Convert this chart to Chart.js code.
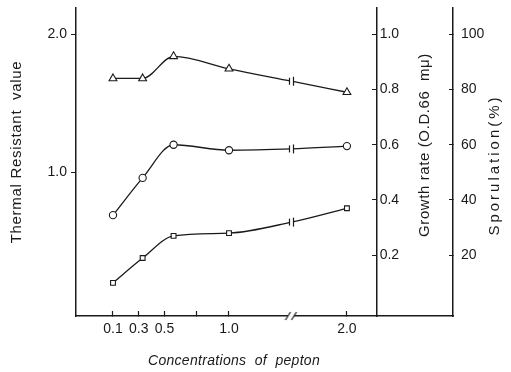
<!DOCTYPE html>
<html><head><meta charset="utf-8">
<script src="https://cdn.jsdelivr.net/npm/chart.js@4/dist/chart.umd.min.js"></script>
<style>html,body{margin:0;padding:0;background:#fff;}#wrap{width:511px;height:372px;}</style>
</head><body><div id="wrap"><canvas id="c" width="511" height="372"></canvas></div>
<script>
// ---- data ----
const concentrations = [0.1, 0.33, 0.57, 1.0, 2.0];        // pepton concentration of each marker (as drawn)
const thermalResistant = [0.69, 0.96, 1.20, 1.16, 1.19];    // circles, left axis
const growthRate = [0.10, 0.19, 0.27, 0.28, 0.37];          // squares, Growth rate axis
const sporulation = [84, 84, 92, 87.5, 79];                 // triangles, Sporulation axis
// where each line crosses the axis break
const breakConcentration = 1.53;
const thermalAtBreak = 1.17;
const growthAtBreak = 0.32;
const sporulationAtBreak = 83;
// ticks
const xTickValues = [0.1, 0.3, 0.5, 0.75, 1.0, 2.0];
const xTickLabels = ['0.1', '0.3', '0.5', '', '1.0', '2.0'];
const thermalTicks = [1.0, 2.0];
const growthTicks = [0.2, 0.4, 0.6, 0.8, 1.0];
const sporulationTicks = [20, 40, 60, 80, 100];

// broken x axis: beyond 1.0 the scale is compressed
const COMPRESS = 0.915;
function axisPos(c) { return c <= 1 ? c : 1 + (c - 1) * COMPRESS; }
const GROWTH_AXIS_AT = 2.146;

const FONT = '"Liberation Sans Narrow", "Liberation Sans", Arial, sans-serif';
const INK = '#1a1a1a';

function series(values, atBreak) {
  const pts = concentrations.map((c, i) => ({ x: axisPos(c), y: values[i] }));
  pts.splice(4, 0, { x: axisPos(breakConcentration), y: atBreak });
  return pts;
}
function barMark() {
  const c = document.createElement('canvas'); c.width = 9; c.height = 11;
  const g = c.getContext('2d');
  g.fillStyle = '#fff'; g.fillRect(2, 3, 5, 5);
  g.strokeStyle = INK; g.lineWidth = 1.2; g.beginPath();
  g.moveTo(2.5, 2); g.lineTo(2.5, 9); g.moveTo(6.5, 1); g.lineTo(6.5, 10); g.stroke();
  return c;
}
function slashMark() {
  const c = document.createElement('canvas'); c.width = 14; c.height = 12;
  const g = c.getContext('2d');
  g.fillStyle = '#fff'; g.fillRect(3, 4, 7, 4);
  g.strokeStyle = INK; g.lineWidth = 1.2; g.beginPath();
  g.moveTo(1, 10); g.lineTo(6, 2); g.moveTo(7, 10); g.lineTo(12, 2); g.stroke();
  return c;
}
const BAR = barMark(), SLASH = slashMark();
function styles(s) { return [s, s, s, s, BAR, s]; }

const Y_MIN = -0.04, Y_MAX = 2.19;

const titles = {
  id: 'titles',
  afterDraw(chart) {
    const g = chart.ctx; g.save();
    g.fillStyle = INK; g.textAlign = 'center'; g.textBaseline = 'middle';
    g.font = 'italic 14px ' + FONT;
    g.letterSpacing = '0.3px';
    g.fillText('Concentrations  of  pepton', 234, 361);
    const rot = (t, x, y, size, sp) => { g.save(); g.translate(x, y); g.rotate(-Math.PI / 2); g.font = size + 'px ' + FONT; g.letterSpacing = sp + 'px'; g.fillText(t, 0, 0); g.restore(); };
    rot('Thermal Resistant  value', 17, 152, 15, 0.7);
    rot('Growth rate (O.D.66  m\u03bc)', 425, 145, 15, 0.6);
    rot('Sporulation(%)', 495, 165, 15, 3);
    g.restore();
  }
};
// growth-rate axis stands inside the plot: put its labels on the right of its line
const growthLabelsRight = {
  id: 'growthLabelsRight',
  beforeDraw(chart) {
    const s = chart.scales.yGrowth;
    const lineX = chart.scales.x.getPixelForValue(GROWTH_AXIS_AT);
    s.getLabelItems(chart.chartArea).forEach(it => { it.options.textAlign = 'left'; it.options.translation[0] = lineX + 3; });
  }
};
function noPad(s) { s.paddingTop = 0; s.paddingBottom = 0; s.paddingLeft = 0; s.paddingRight = 0; }

const common = { borderColor: INK, backgroundColor: '#fff', pointBackgroundColor: '#fff', pointBorderColor: INK,
  borderWidth: 1.3, pointBorderWidth: 1.1, tension: 0.4, cubicInterpolationMode: 'monotone', showLine: true };

new Chart(document.getElementById('c'), {
  type: 'scatter',
  data: { datasets: [
    Object.assign({}, common, { label: 'Sporulation', yAxisID: 'ySpor', data: series(sporulation, sporulationAtBreak), pointStyle: styles('triangle'), pointRadius: 4.5 }),
    Object.assign({}, common, { label: 'Thermal resistant value', yAxisID: 'y', data: series(thermalResistant, thermalAtBreak), pointStyle: styles('circle'), pointRadius: 3.6 }),
    Object.assign({}, common, { label: 'Growth rate', yAxisID: 'yGrowth', data: series(growthRate, growthAtBreak), pointStyle: styles('rect'), pointRadius: 3.4 }),
    { label: 'axis break', yAxisID: 'y', data: [{ x: axisPos(breakConcentration), y: Y_MIN }], pointStyle: SLASH, showLine: false, clip: false, pointRadius: 6 }
  ]},
  options: {
    responsive: false, animation: false, devicePixelRatio: 1,
    layout: { padding: { top: 8, left: 0, right: 0, bottom: 0 } },
    plugins: { legend: { display: false }, tooltip: { enabled: false } },
    scales: {
      x: { type: 'linear', position: 'bottom', min: -0.187, max: 2.738,
        afterBuildTicks: s => { s.ticks = xTickValues.map(v => ({ value: axisPos(v) })); },
        afterFit: s => { s.height = 56; noPad(s); },
        ticks: { autoSkip: false, maxRotation: 0, padding: 10, color: INK, font: { size: 14, family: FONT }, callback: (v, i) => xTickLabels[i] },
        grid: { drawOnChartArea: false, tickLength: -5, color: INK, tickWidth: 1.2 },
        border: { color: INK, width: 1.5 } },
      y: { position: 'left', min: Y_MIN, max: Y_MAX,
        afterBuildTicks: s => { s.ticks = thermalTicks.map(v => ({ value: v })); },
        afterFit: s => { s.width = 76; noPad(s); },
        ticks: { padding: 4, color: INK, font: { size: 14, family: FONT }, callback: v => v.toFixed(1) },
        grid: { drawOnChartArea: false, tickLength: 5, color: INK },
        border: { color: INK, width: 1.5 } },
      yGrowth: { axis: 'y', position: { x: GROWTH_AXIS_AT }, min: -0.02, max: 1.095,
        afterBuildTicks: s => { s.ticks = growthTicks.map(v => ({ value: v })); },
        afterFit: s => { noPad(s); },
        ticks: { padding: 0, color: INK, font: { size: 14, family: FONT }, callback: v => v.toFixed(1) },
        grid: { drawOnChartArea: false, tickLength: 4, color: INK },
        border: { color: INK, width: 1.5 } },
      ySpor: { position: 'right', min: -2, max: 109.5,
        afterBuildTicks: s => { s.ticks = sporulationTicks.map(v => ({ value: v })); },
        afterFit: s => { s.width = 58; noPad(s); },
        ticks: { padding: 12, color: INK, font: { size: 14, family: FONT }, callback: v => String(v) },
        grid: { drawOnChartArea: false, tickLength: -4, color: INK },
        border: { color: INK, width: 1.5 } }
    }
  },
  plugins: [growthLabelsRight, titles]
});
</script></body></html>
